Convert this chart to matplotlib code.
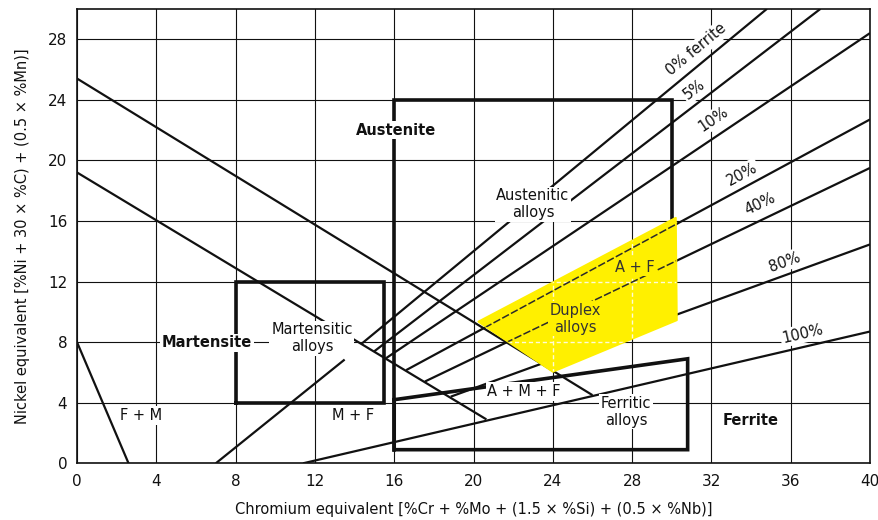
import matplotlib
matplotlib.use("Agg")
import matplotlib.pyplot as plt
import numpy as np
from matplotlib.patches import Polygon

plt.rcParams["font.family"] = ["DejaVu Sans"]

# ---- axis ticks ----
x_ticks = [0, 4, 8, 12, 16, 20, 24, 28, 32, 36, 40]
y_ticks = [0, 4, 8, 12, 16, 20, 24, 28]

# ---- iso-ferrite lines: (label, start x, start y, end x, end y) ----
ferrite_pct = ["0% ferrite", "5%", "10%", "20%", "40%", "80%", "100%"]
ferrite_x0 = [14.36, 15.0, 15.6, 16.6, 17.55, 18.85, 11.4]
ferrite_y0 = [7.9, 7.4, 6.95, 6.15, 5.4, 4.4, 0.0]
ferrite_x1 = [34.8, 37.5, 40.0, 40.0, 40.0, 40.0, 40.0]
ferrite_y1 = [30.0, 30.0, 28.4, 22.7, 19.5, 14.45, 8.7]
# label centres for the iso-ferrite lines
ferrite_lx = [31.25, 31.15, 32.1, 33.55, 34.45, 35.7, 36.6]
ferrite_ly = [27.3, 24.65, 22.7, 19.1, 17.1, 13.3, 8.55]

# ---- phase boundary lines (x0, y0, x1, y1) ----
boundary_x0 = [0.0, 0.0, 0.0, 7.0]
boundary_y0 = [25.4, 19.2, 8.0, 0.0]
boundary_x1 = [26.0, 20.65, 2.6, 13.5]
boundary_y1 = [4.5, 2.9, 0.0, 6.85]

# ---- alloy-family outlines ----
austenite_box_x = [16.0, 16.0, 30.0, 30.0]
austenite_box_y = [0.9, 24.0, 24.0, 16.2]
martensite_box_x = [8.0, 15.5, 15.5, 8.0, 8.0]
martensite_box_y = [4.0, 4.0, 12.0, 12.0, 4.0]
ferritic_box_x = [16.0, 30.8, 30.8, 16.0]
ferritic_box_y = [4.2, 6.9, 0.9, 0.9]

# duplex (A + F) region
duplex_x = [20.25, 30.2, 30.25, 24.0]
duplex_y = [9.35, 16.2, 9.45, 6.05]

# ---- region labels ----
region_text = ["Austenitic\nalloys", "Martensitic\nalloys", "F + M", "M + F",
               "A + M + F", "Ferritic\nalloys"]
region_x = [23.0, 11.85, 3.25, 13.9, 22.55, 27.7]
region_y = [17.1, 8.25, 3.15, 3.15, 4.75, 3.4]
phase_text = ["Austenite", "Martensite", "Ferrite"]
phase_x = [16.1, 6.55, 34.0]
phase_y = [22.0, 7.95, 2.8]
duplex_text = ["Duplex\nalloys", "A + F"]
duplex_lx = [25.15, 28.15]
duplex_ly = [9.55, 12.95]

INK = "#111111"
YELLOW = "#fff000"

fig = plt.figure(figsize=(8.79, 5.2), dpi=100)
ax = fig.add_axes([0.0876, 0.109, 0.9022, 0.874])
ax.set_xlim(0, 40)
ax.set_ylim(0, 30)

ax.set_xticks(x_ticks)
ax.set_yticks(y_ticks)
ax.grid(True, color=INK, lw=0.8, zorder=1)
ax.set_axisbelow(True)
ax.tick_params(length=0, labelsize=11, colors=INK)
ax.tick_params(axis="x", pad=8)
ax.tick_params(axis="y", pad=7)
for s in ax.spines.values():
    s.set_linewidth(1.2)
    s.set_color(INK)

ax.set_xlabel("Chromium equivalent [%Cr + %Mo + (1.5 × %Si) + (0.5 × %Nb)]",
              fontsize=10.5, color=INK, labelpad=9)
ax.set_ylabel("Nickel equivalent [%Ni + 30 × %C) + (0.5 × %Mn)]",
              fontsize=10.5, color=INK, labelpad=13)

# boundary lines
for x0, y0, x1, y1 in zip(boundary_x0, boundary_y0, boundary_x1, boundary_y1):
    ax.plot([x0, x1], [y0, y1], color=INK, lw=1.6, zorder=2, solid_capstyle="butt")

# iso-ferrite lines
for x0, y0, x1, y1 in zip(ferrite_x0, ferrite_y0, ferrite_x1, ferrite_y1):
    ax.plot([x0, x1], [y0, y1], color=INK, lw=1.6, zorder=2, solid_capstyle="butt")

# alloy outlines
for bx, by in [(austenite_box_x, austenite_box_y),
               (martensite_box_x, martensite_box_y)]:
    ax.plot(bx, by, color=INK, lw=2.6, zorder=3, solid_joinstyle="miter")
ax.plot(ferritic_box_x + ferritic_box_x[:1], ferritic_box_y + ferritic_box_y[:1],
        color=INK, lw=2.6, zorder=3, solid_joinstyle="miter")

# duplex region
duplex = Polygon(np.column_stack([duplex_x, duplex_y]), closed=True,
                 facecolor=YELLOW, edgecolor=YELLOW, lw=1.5, zorder=4,
                 joinstyle="round")
ax.add_patch(duplex)

# faint grid and broken 20 % / 40 % lines showing through the duplex region
for gx in [24, 28]:
    ln, = ax.plot([gx, gx], [0, 30], color="#fffbd8", lw=1.0, ls=(0, (3, 2)), zorder=5)
    ln.set_clip_path(duplex)
for gy in [8, 12]:
    ln, = ax.plot([0, 40], [gy, gy], color="#fffbd8", lw=1.0, ls=(0, (3, 2)), zorder=5)
    ln.set_clip_path(duplex)
for i in (3, 4):
    ln, = ax.plot([ferrite_x0[i], ferrite_x1[i]], [ferrite_y0[i], ferrite_y1[i]],
                  color="#2a2a2a", lw=1.1, ls=(0, (5, 1.5)), zorder=5)
    ln.set_clip_path(duplex)


def screen_angle(x, y, slope):
    deg = np.degrees(np.arctan(slope))
    return ax.transData.transform_angles(np.array([deg]), np.array([[x, y]]))[0]


white_box = dict(boxstyle="square,pad=0.12", fc="white", ec="none")

for txt, lx, ly, x0, y0, x1, y1 in zip(ferrite_pct, ferrite_lx, ferrite_ly,
                                       ferrite_x0, ferrite_y0, ferrite_x1, ferrite_y1):
    ang = screen_angle(lx, ly, (y1 - y0) / (x1 - x0))
    ax.text(lx, ly, txt, rotation=ang, rotation_mode="anchor", ha="center", va="center",
            fontsize=10.5, color=INK, bbox=white_box, zorder=6)

for txt, x, y in zip(region_text, region_x, region_y):
    ax.text(x, y, txt, ha="center", va="center", fontsize=10.5, color=INK,
            linespacing=1.15, bbox=white_box, zorder=6)

for txt, x, y in zip(phase_text, phase_x, phase_y):
    ax.text(x, y, txt, ha="center", va="center", fontsize=10.5, color=INK,
            fontweight="bold", bbox=white_box, zorder=6)

yellow_box = dict(boxstyle="square,pad=0.1", fc=YELLOW, ec="none")
for txt, x, y in zip(duplex_text, duplex_lx, duplex_ly):
    ax.text(x, y, txt, ha="center", va="center", fontsize=10.5, color="#333333",
            linespacing=1.15, bbox=yellow_box, zorder=7)

fig.savefig("out.png", dpi=100)
